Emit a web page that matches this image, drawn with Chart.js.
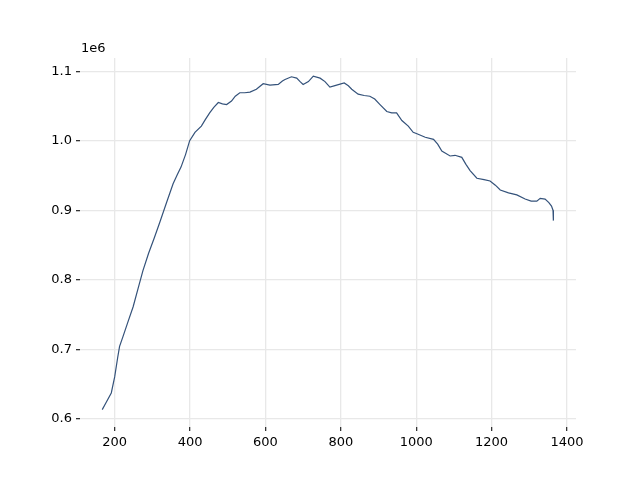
<!DOCTYPE html>
<html>
<head>
<meta charset="utf-8">
<script src="https://cdn.jsdelivr.net/npm/chart.js@4"></script>
<style>
  html, body { margin: 0; padding: 0; background: #fff; }
  #wrap { width: 640px; height: 480px; }
</style>
</head>
<body>
<div id="wrap"><canvas id="lineChart" width="640" height="480"></canvas></div>
<script>
// values
const xValues = [
  167, 178, 191, 200, 208, 213, 222, 235, 249, 262, 275, 290, 305, 320, 337,
  355, 366, 376, 388, 399, 413, 430, 440, 452, 463, 475, 486, 497, 510, 520,
  532, 545, 559, 576, 594, 612, 634, 645, 652, 669, 683, 692, 700, 714, 727,
  745, 758, 771, 789, 809, 820, 829, 846, 862, 877, 890, 904, 922, 935, 948,
  962, 979, 992, 1002, 1024, 1046, 1057, 1068, 1090, 1103, 1121, 1132, 1143, 1161, 1180,
  1196, 1210, 1223, 1245, 1267, 1289, 1305, 1320, 1329, 1342, 1352, 1359, 1363, 1364
];
const yMillions = [
  0.613, 0.624, 0.637, 0.660, 0.688, 0.704, 0.718, 0.739, 0.761, 0.787, 0.813, 0.838, 0.860, 0.883, 0.910,
  0.938, 0.951, 0.962, 0.980, 1.000, 1.012, 1.021, 1.030, 1.040, 1.048, 1.055, 1.053, 1.052, 1.057, 1.064,
  1.069, 1.069, 1.070, 1.074, 1.082, 1.080, 1.081, 1.086, 1.088, 1.092, 1.090, 1.085, 1.081, 1.085, 1.093,
  1.090, 1.085, 1.077, 1.080, 1.083, 1.079, 1.074, 1.067, 1.065, 1.064, 1.060, 1.052, 1.042, 1.040, 1.040,
  1.029, 1.021, 1.012, 1.010, 1.005, 1.002, 0.995, 0.985, 0.978, 0.979, 0.976, 0.966, 0.957, 0.946, 0.944,
  0.942, 0.936, 0.929, 0.925, 0.922, 0.916, 0.913, 0.913, 0.917, 0.916, 0.911, 0.906, 0.900, 0.885
];
const xTicks = [200, 400, 600, 800, 1000, 1200, 1400];
const yTicks = [600000, 700000, 800000, 900000, 1000000, 1100000];

const points = xValues.map((x, i) => ({ x: x, y: yMillions[i] * 1e6 }));

const font = { family: 'DejaVu Sans', size: 13 };

// the "1e6" offset label above the y axis
const offsetLabel = {
  id: 'offsetLabel',
  afterDraw(chart) {
    const ctx = chart.ctx;
    ctx.save();
    ctx.font = '13px "DejaVu Sans"';
    ctx.fillStyle = '#000';
    ctx.textAlign = 'left';
    ctx.textBaseline = 'bottom';
    ctx.fillText('1e6', chart.chartArea.left + 1, chart.chartArea.top - 3);
    ctx.restore();
  }
};

new Chart(document.getElementById('lineChart').getContext('2d'), {
  type: 'line',
  data: {
    datasets: [{
      data: points,
      borderColor: '#34527a',
      borderWidth: 1.2,
      pointRadius: 0,
      tension: 0,
      fill: false
    }]
  },
  options: {
    responsive: false,
    animation: false,
    layout: { padding: { left: 0, right: 64, top: 58, bottom: 0 } },
    plugins: {
      legend: { display: false },
      tooltip: { enabled: false }
    },
    scales: {
      x: {
        type: 'linear',
        min: 108,
        max: 1424,
        afterBuildTicks: s => { s.ticks = xTicks.map(v => ({ value: v })); },
        afterFit: s => { s.height = 53; },
        border: { display: false },
        grid: { color: '#e8e8e8', lineWidth: 1.3, tickColor: '#333', tickLength: 4 },
        ticks: { color: '#000', font: font, padding: 4, maxRotation: 0, callback: v => String(v) }
      },
      y: {
        min: 588000,
        max: 1119000,
        afterBuildTicks: s => { s.ticks = yTicks.map(v => ({ value: v })); },
        afterFit: s => { s.width = 80; },
        border: { display: false },
        grid: { color: '#e8e8e8', lineWidth: 1.3, tickColor: '#333', tickLength: 4 },
        ticks: {
          color: '#000',
          font: font,
          padding: 4,
          callback: v => (v / 1e6).toFixed(1)
        }
      }
    }
  },
  plugins: [offsetLabel]
});
</script>
</body>
</html>
